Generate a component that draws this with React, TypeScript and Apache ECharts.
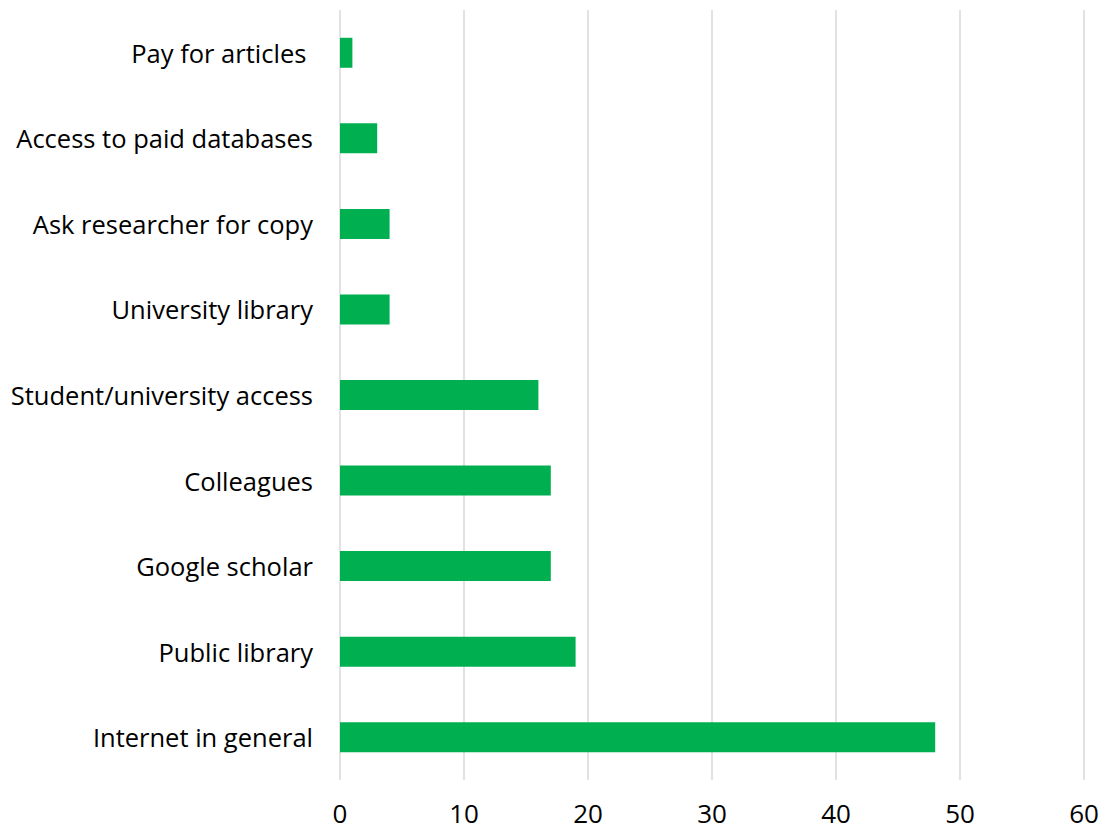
import React, { useEffect, useRef } from "react";
import * as echarts from "echarts";

const categories = [
  "Internet in general",
  "Public library",
  "Google scholar",
  "Colleagues",
  "Student/university access",
  "University library",
  "Ask researcher for copy",
  "Access to paid databases",
  "Pay for articles ",
];
const values = [48, 19, 17, 17, 16, 4, 4, 3, 1];
const xMin = 0;
const xMax = 60;
const xInterval = 10;

export default function App() {
  const ref = useRef<HTMLDivElement>(null);
  useEffect(() => {
    if (!ref.current) return;
    const chart = echarts.init(ref.current, null, { renderer: "svg" });
    chart.setOption({
      animation: false,
      grid: { left: 340, right: 18, top: 10, bottom: 51, containLabel: false },
      xAxis: {
        type: "value",
        min: xMin,
        max: xMax,
        interval: xInterval,
        axisLine: { show: false },
        axisTick: { show: false },
        axisLabel: {
          color: "#000",
          fontSize: 26,
          fontFamily: "Open Sans",
          margin: 20,
        },
        splitLine: { show: true, lineStyle: { color: "#d9d9d9", width: 1.5 } },
      },
      yAxis: {
        type: "category",
        data: categories,
        axisLine: { show: false },
        axisTick: { show: false },
        axisLabel: {
          color: "#000",
          fontSize: 25.5,
          fontFamily: "Open Sans",
          margin: 27,
          padding: [0, 0, 6, 0],
        },
      },
      series: [
        {
          type: "bar",
          data: values,
          barWidth: 30,
          itemStyle: { color: "#00b050" },
        },
      ],
    });
    return () => chart.dispose();
  }, []);
  return (
    <div
      ref={ref}
      style={{ position: "fixed", left: 0, top: 0, width: 1102, height: 831, background: "#fff" }}
    />
  );
}
